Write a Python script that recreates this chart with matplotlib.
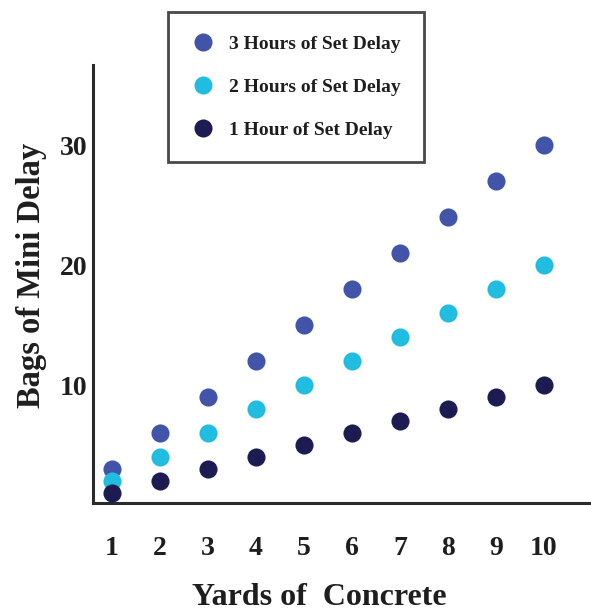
import matplotlib.pyplot as plt
from matplotlib.lines import Line2D

# data
yards = [1, 2, 3, 4, 5, 6, 7, 8, 9, 10]
three_hours = [3, 6, 9, 12, 15, 18, 21, 24, 27, 30]
two_hours = [2, 4, 6, 8, 10, 12, 14, 16, 18, 20]
one_hour = [1, 2, 3, 4, 5, 6, 7, 8, 9, 10]
y_ticks = [10, 20, 30]

c3 = '#4154a8'
c2 = '#21bde0'
c1 = '#1c1c52'
txt = '#1e1e1e'

plt.rcParams['font.family'] = ['Liberation Serif', 'DejaVu Serif']
plt.rcParams['font.weight'] = 'bold'
plt.rcParams['axes.labelweight'] = 'bold'

fig = plt.figure(figsize=(5.91, 6.14), dpi=100)
ax = fig.add_axes([93 / 591, 111 / 614, 497 / 591, 438 / 614])

ax.scatter(yards, three_hours, s=170, color=c3, zorder=3, linewidths=0)
ax.scatter(yards, two_hours, s=170, color=c2, zorder=3, linewidths=0)
ax.scatter(yards, one_hour, s=170, color=c1, zorder=3, linewidths=0)

ax.set_xlim(0.604, 10.96)
ax.set_ylim(0.17, 36.67)
ax.set_xticks(yards)
ax.set_yticks(y_ticks)
ax.tick_params(axis='both', length=0, labelsize=20, labelcolor=txt)
ax.tick_params(axis='x', pad=24)
ax.tick_params(axis='y', pad=4)

for s in ['top', 'right']:
    ax.spines[s].set_visible(False)
for s in ['left', 'bottom']:
    ax.spines[s].set_linewidth(2.2)
    ax.spines[s].set_color('#2a2a2a')

ax.set_ylabel('Bags of Mini Delay', fontsize=23.5, color=txt, fontweight='bold')
ax.yaxis.set_label_coords(-0.093, 0.52)
ax.set_xlabel('Yards of  Concrete', fontsize=23, color=txt, fontweight='bold')
ax.xaxis.set_label_coords(0.455, -0.183)

handles = [Line2D([], [], marker='o', ls='none', ms=13, color=c, mew=0) for c in (c3, c2, c1)]
labels = ['3 Hours of Set Delay', '2 Hours of Set Delay', '1 Hour of Set Delay']
leg = fig.legend(handles, labels, loc='upper left', bbox_to_anchor=(168 / 591, 1 - 12 / 614),
                 fontsize=14, frameon=True, fancybox=False, edgecolor='#1a1a1a',
                 borderpad=1.2, labelspacing=1.3, handletextpad=0.75, borderaxespad=0,
                 handlelength=1.2)
leg.get_frame().set_linewidth(2)
for t in leg.get_texts():
    t.set_color(txt)

fig.savefig('out.png', dpi=100)
